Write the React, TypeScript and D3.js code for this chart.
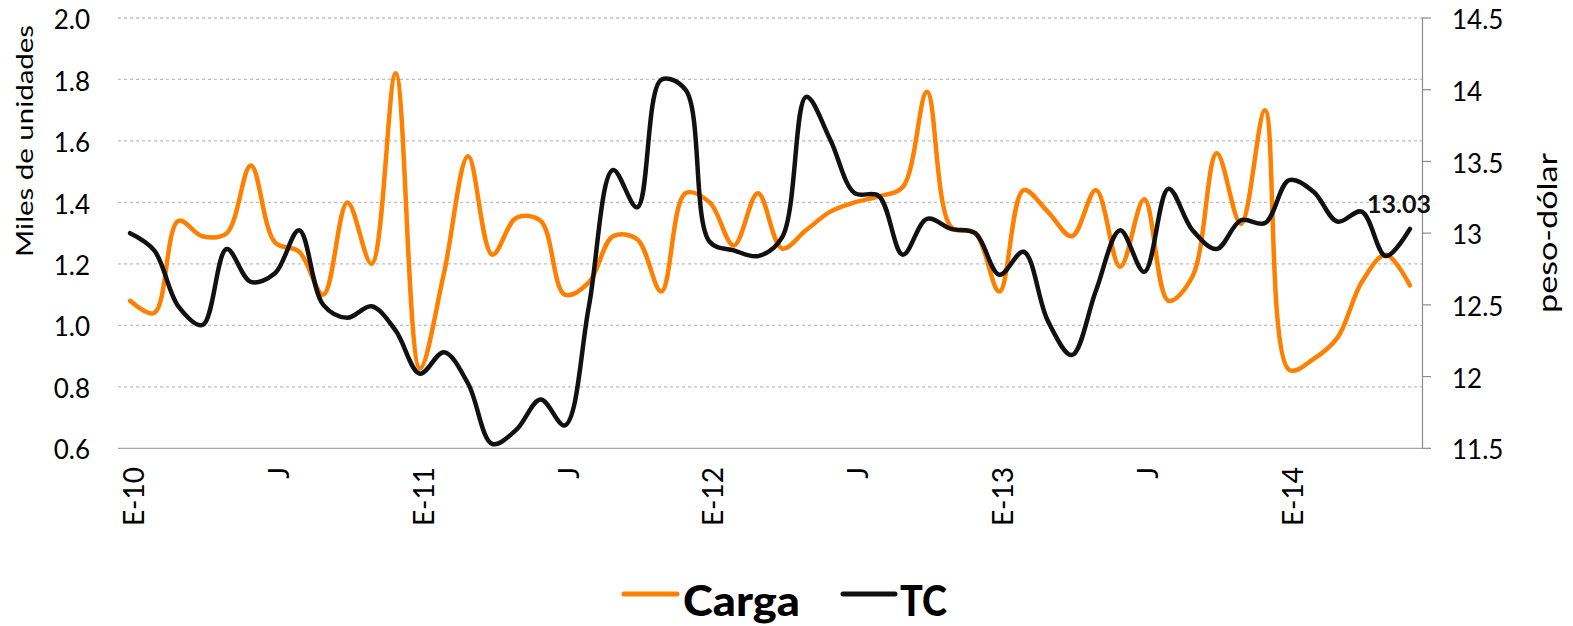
import React from "react";
import * as d3 from "d3";

const categories = [
  "2010-01","2010-02","2010-03","2010-04","2010-05","2010-06","2010-07","2010-08","2010-09","2010-10","2010-11","2010-12",
  "2011-01","2011-02","2011-03","2011-04","2011-05","2011-06","2011-07","2011-08","2011-09","2011-10","2011-11","2011-12",
  "2012-01","2012-02","2012-03","2012-04","2012-05","2012-06","2012-07","2012-08","2012-09","2012-10","2012-11","2012-12",
  "2013-01","2013-02","2013-03","2013-04","2013-05","2013-06","2013-07","2013-08","2013-09","2013-10","2013-11","2013-12",
  "2014-01","2014-02","2014-03","2014-04","2014-05","2014-06",
];

const tickLabels = ["E-10", "J", "E-11", "J", "E-12", "J", "E-13", "J", "E-14"];
const tickCategories = ["2010-01","2010-07","2011-01","2011-07","2012-01","2012-07","2013-01","2013-07","2014-01"];

const carga = [
  1.08, 1.04, 1.34, 1.29, 1.30, 1.52, 1.27, 1.24, 1.10, 1.40, 1.20, 1.82,
  0.86, 1.17, 1.55, 1.23, 1.35, 1.34, 1.10, 1.14, 1.29, 1.28, 1.11, 1.43,
  1.40, 1.26, 1.43, 1.25, 1.31, 1.37, 1.40, 1.42, 1.45, 1.76, 1.32, 1.30,
  1.11, 1.44, 1.37, 1.29, 1.44, 1.19, 1.41, 1.08, 1.16, 1.56, 1.33, 1.70,
  0.855, 0.89, 0.96, 1.14, 1.23, 1.13,
];

const tc = [
  13.00, 12.88, 12.49, 12.36, 12.89, 12.66, 12.72, 13.02, 12.50, 12.41, 12.49, 12.32,
  12.02, 12.17, 11.95, 11.53, 11.63, 11.84, 11.66, 12.49, 13.44, 13.18, 14.07, 14.00,
  12.94, 12.88, 12.84, 12.97, 13.95, 13.65, 13.28, 13.26, 12.85, 13.10, 13.03, 13.00,
  12.71, 12.87, 12.39, 12.15, 12.60, 13.02, 12.73, 13.31, 13.02, 12.89, 13.09, 13.07,
  13.37, 13.29, 13.08, 13.15, 12.84, 13.03,
];

const leftTicks = [0.6, 0.8, 1.0, 1.2, 1.4, 1.6, 1.8, 2.0];
const rightTicks = [11.5, 12, 12.5, 13, 13.5, 14, 14.5];

const W = 1573;
const H = 626;
const FONT = "Lato, 'Open Sans', sans-serif";
const ORANGE = "#FF8000";
const BLACK = "#111111";

export default function App() {
  const left = 118, right = 1422, top = 18, bottom = 448.3;
  const x = d3.scaleBand<string>().domain(categories).range([left, right]);
  const cx = (c: string) => (x(c) as number) + x.bandwidth() / 2;
  const yL = d3.scaleLinear().domain([0.6, 2.0]).range([bottom, top]);
  const yR = d3.scaleLinear().domain([11.5, 14.5]).range([bottom, top]);

  const lineL = d3
    .line<number>()
    .x((_, i) => cx(categories[i]))
    .y((d) => yL(d))
    .curve(d3.curveCatmullRom.alpha(0.5));
  const lineR = d3
    .line<number>()
    .x((_, i) => cx(categories[i]))
    .y((d) => yR(d))
    .curve(d3.curveCatmullRom.alpha(0.5));

  const lastI = tc.length - 1;
  const lastX = cx(categories[lastI]);
  const lastY = yR(tc[lastI]);

  return (
    <div style={{ position: "absolute", left: 0, top: 0 }}>
      <svg width={W} height={H} style={{ display: "block", background: "#fff" }}>
        {leftTicks.filter((t) => t > 0.6).map((t) => (
          <line key={"g" + t} x1={left} x2={right} y1={yL(t)} y2={yL(t)}
            stroke="#BFBFBF" strokeWidth={1.3} strokeDasharray="3,3" />
        ))}
        <line x1={left} x2={right} y1={bottom} y2={bottom} stroke="#A6A6A6" strokeWidth={1.3} />
        <line x1={right + 0.5} x2={right + 0.5} y1={top} y2={bottom} stroke="#8C8C8C" strokeWidth={1.2} />
        {rightTicks.map((t) => (
          <line key={"rt" + t} x1={right} x2={right + 9} y1={yR(t)} y2={yR(t)} stroke="#8C8C8C" strokeWidth={1.2} />
        ))}

        {leftTicks.map((t) => (
          <text key={"lt" + t} x={90} y={yL(t) + 2} dy="0.35em" textAnchor="end"
            fontFamily={FONT} fontSize={26} fill="#000">{t.toFixed(1)}</text>
        ))}
        {rightTicks.map((t) => (
          <text key={"rl" + t} x={1452} y={yR(t) + 2} dy="0.35em" textAnchor="start"
            fontFamily={FONT} fontSize={26} fill="#000">{String(t)}</text>
        ))}

        {tickCategories.map((c, i) => (
          <text key={"xl" + c} transform={`translate(${cx(c) + 4},${467}) rotate(-90)`}
            dy="0.35em" textAnchor="end" fontFamily={FONT} fontSize={28} fill="#000">
            {tickLabels[i]}
          </text>
        ))}

        <text transform={`translate(33,141) rotate(-90)`} textAnchor="middle"
          fontFamily={FONT} fontSize={24} fill="#000" textLength={232} lengthAdjust="spacingAndGlyphs">
          Miles de unidades
        </text>
        <text transform={`translate(1557,233) rotate(-90)`} textAnchor="middle"
          fontFamily={FONT} fontSize={26} fill="#000" textLength={160} lengthAdjust="spacingAndGlyphs">
          peso-dólar
        </text>

        <path d={lineL(carga) || ""} fill="none" stroke={ORANGE} strokeWidth={4.5}
          strokeLinejoin="round" strokeLinecap="round" />
        <path d={lineR(tc) || ""} fill="none" stroke={BLACK} strokeWidth={4.5}
          strokeLinejoin="round" strokeLinecap="round" />

        <text x={lastX - 43} y={lastY - 15.5} fontFamily={FONT}
          fontWeight="bold" fontSize={25} fill="#111" textLength={64} lengthAdjust="spacingAndGlyphs">
          {tc[lastI].toFixed(2)}
        </text>

        <line x1={624} x2={677} y1={594} y2={594} stroke={ORANGE} strokeWidth={5} strokeLinecap="round" />
        <text x={683} y={616} fontFamily={FONT} fontWeight="900" fontSize={42} fill="#000"
          textLength={117} lengthAdjust="spacingAndGlyphs">Carga</text>
        <line x1={843} x2={895} y1={594} y2={594} stroke={BLACK} strokeWidth={5} strokeLinecap="round" />
        <text x={900} y={616} fontFamily={FONT} fontWeight="900" fontSize={42} fill="#000"
          textLength={47} lengthAdjust="spacingAndGlyphs">TC</text>
      </svg>
    </div>
  );
}
